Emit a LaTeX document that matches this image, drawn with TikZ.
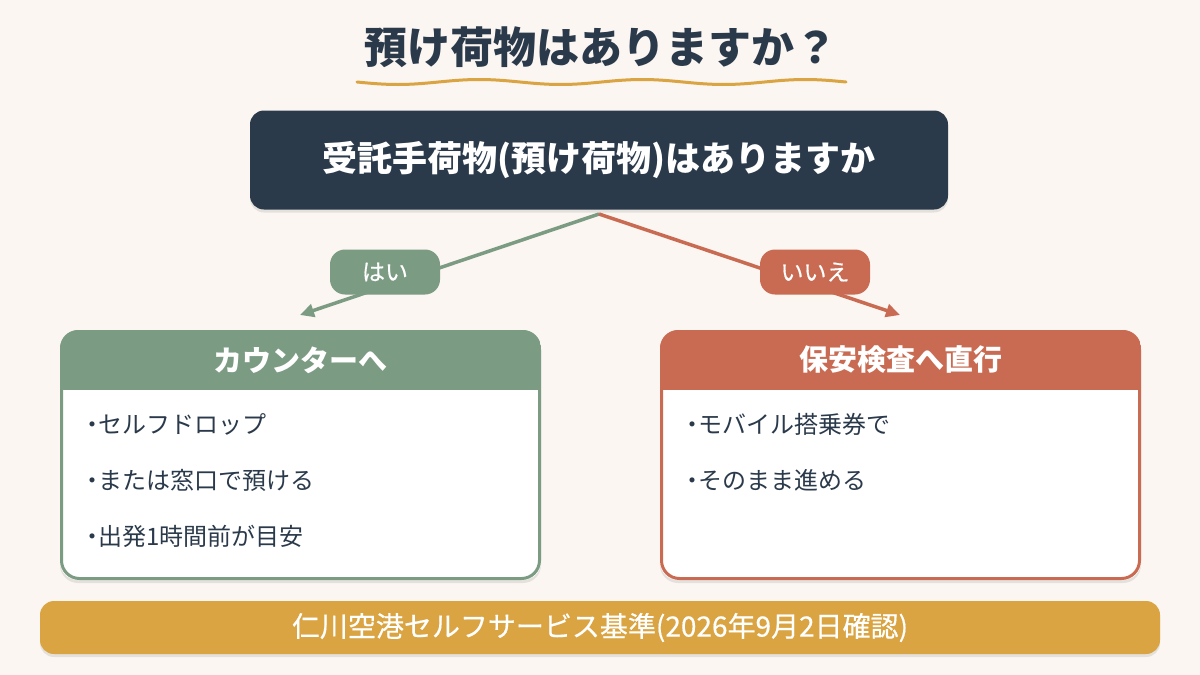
\documentclass[tikz,border=0pt]{standalone}
\usepackage{fontspec}
\setmainfont{Noto Sans CJK JP}[CharacterWidth=Proportional]
\newfontfamily\fwfont{Noto Sans CJK JP}
\newfontfamily\medfont{Noto Sans CJK JP}[CharacterWidth=Proportional,FakeBold=0.5]
\usetikzlibrary{shadows,arrows.meta}
\definecolor{bgc}{HTML}{FBF6F1}
\definecolor{navy}{HTML}{2B3A4B}
\definecolor{sage}{HTML}{7B9B83}
\definecolor{terra}{HTML}{C96B52}
\definecolor{gold}{HTML}{D9A441}
\tikzset{
  softshadow/.style={drop shadow={opacity=0.18,shadow xshift=0pt,shadow yshift=-3pt}},
  pill/.style={rounded corners=15pt,minimum width=110pt,minimum height=45pt,text=white,inner sep=0pt,font=\medfont\fontsize{23}{26}\selectfont},
  headtxt/.style={text=white,font=\fontsize{29}{32}\selectfont\bfseries},
  bullet/.style={anchor=west,text=navy,font=\fontsize{24}{28}\selectfont,inner sep=0pt},
  conn/.style={line width=3.5pt,-{Triangle[length=14pt,width=13pt]}},
}
\newcommand{\bul}{・\kern-6pt}
\begin{document}
\begin{tikzpicture}[x=1pt,y=-1pt]
\fill[bgc] (0,0) rectangle (1200,675);
\useasboundingbox (0,0) rectangle (1200,675);
% title
\node (title) at (600.5,47) [text=navy,font=\fwfont\fontsize{43}{48}\selectfont\bfseries] {預け荷物はありますか？};
\draw[gold,line width=3pt,line cap=round] plot[domain=0:489,samples=120,smooth] ({\x+357},{82+2.5*sin(\x*2.2086)});
% top question
\node (q) at (599,160) [fill=navy,rounded corners=14pt,minimum width=698pt,minimum height=99pt,softshadow,text=white,font=\fontsize{35}{38}\selectfont\bfseries] {受託手荷物(預け荷物)はありますか};
\coordinate (split) at (599,214);
% cards
\coordinate (lt) at (60,330);
\coordinate (lb) at (541,580);
\coordinate (rt) at (660,330);
\coordinate (rb) at (1141,580);
\node (lbox) at (300.5,455) [fill=white,rounded corners=18pt,minimum width=481pt,minimum height=250pt,softshadow] {};
\node (rbox) at (900.5,455) [fill=white,rounded corners=18pt,minimum width=481pt,minimum height=250pt,softshadow] {};
\begin{scope}
\clip[rounded corners=18pt] (lt) rectangle (lb);
\fill[sage] (60,330) rectangle (541,390);
\end{scope}
\begin{scope}
\clip[rounded corners=18pt] (rt) rectangle (rb);
\fill[terra] (660,330) rectangle (1141,390);
\end{scope}
\draw[sage,line width=3pt,rounded corners=18pt] (61.5,331.5) rectangle (539.5,578.5);
\draw[terra,line width=3pt,rounded corners=18pt] (661.5,331.5) rectangle (1139.5,578.5);
\node (lhead) at (300.5,360) [headtxt] {カウンターへ};
\node (rhead) at (900.5,360) [headtxt] {保安検査へ直行};
\node (l1) at (80,424) [bullet] {\bul セルフドロップ};
\node (l2) at (80,480) [bullet] {\bul または窓口で預ける};
\node (l3) at (80,536) [bullet] {\bul 出発1時間前が目安};
\node (r1) at (680,424) [bullet] {\bul モバイル搭乗券で};
\node (r2) at (680,480) [bullet] {\bul そのまま進める};
% connectors
\coordinate (yesend) at (300,315);
\coordinate (noend) at (900,315);
\draw[conn,sage] (split) -- (yesend);
\draw[conn,terra] (split) -- (noend);
\node (yes) at (385,272) [pill,fill=sage] {はい};
\node (no) at (815,272) [pill,fill=terra] {いいえ};
% footer
\node (foot) at (600,627.5) [fill=gold,rounded corners=14pt,minimum width=1120pt,minimum height=53pt,softshadow,text=white,font=\medfont\fontsize{28}{30}\selectfont] {仁川空港セルフサービス基準(2026年9月2日確認)};
\end{tikzpicture}
\end{document}
